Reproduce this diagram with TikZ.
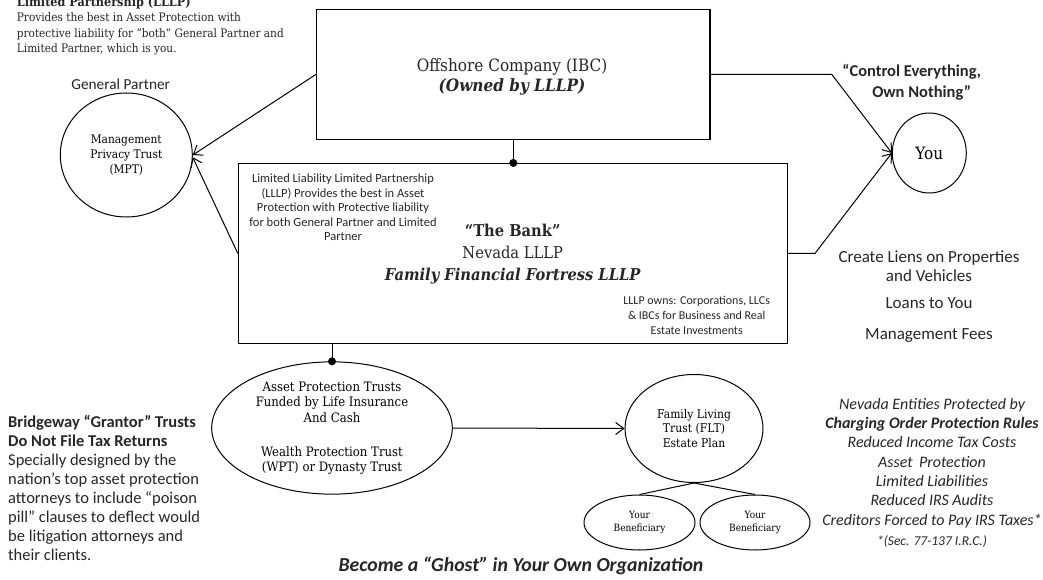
\documentclass[tikz,border=0pt]{standalone}
\usepackage{fontspec}
\setmainfont{DejaVu Serif}[FakeStretch=0.9]
\setsansfont{Carlito}
\usetikzlibrary{arrows.meta,shapes.geometric}
\newcommand{\fsz}[2]{\fontsize{#1}{#2}\selectfont}
\begin{document}
\begin{tikzpicture}[x=1pt,y=-1pt,
  box/.style={draw, rectangle, inner sep=0pt, line width=1.1pt},
  oval/.style={draw, ellipse, inner sep=0pt, line width=1pt, align=center},
  arr/.style={-{Straight Barb[length=8pt,width=12pt]}, line width=1pt},
  link/.style={line width=1pt},
  dotmark/.style={circle, fill, inner sep=0pt, minimum size=8pt},
  note/.style={inner sep=0pt, align=center, text=black!85},
]
\useasboundingbox (0,0) rectangle (1043,580);

% entities
\node[box, minimum width=393.3pt, minimum height=130pt] (ibc) at (513.3,74.3) {};
\node[box, minimum width=548.7pt, minimum height=179.8pt] (lllp) at (512.7,253.4) {};
\node[oval, minimum width=132pt, minimum height=124pt, font=\fsz{11.8}{15}] (mpt) at (126.3,155)
  {Management\\Privacy Trust\\(MPT)};
\node[oval, minimum width=74pt, minimum height=80pt, font=\fsz{17}{19}] (you) at (929.3,153) {You};
\node[oval, minimum width=240.6pt, minimum height=132.3pt, font=\fsz{13}{15.5}] (apt) at (332,428)
  {Asset Protection Trusts\\Funded by Life Insurance\\And Cash\\[18.5pt]Wealth Protection Trust\\(WPT) or Dynasty Trust};
\node[oval, minimum width=138pt, minimum height=108pt, font=\fsz{12}{14.7}] (flt) at (694,428.5)
  {Family Living\\Trust (FLT)\\Estate Plan};
\node[oval, minimum width=111pt, minimum height=55pt, font=\fsz{10}{12.6}] (benA) at (639.5,522.5)
  {Your\\Beneficiary};
\node[oval, minimum width=110pt, minimum height=55pt, font=\fsz{10}{12.6}] (benB) at (755,522.5)
  {Your\\Beneficiary};

% texts inside the two boxes
\node[note, font=\fsz{17}{20}] (ibctxt) at (512,77)
  {Offshore Company (IBC)\\{\bfseries\itshape (Owned by LLLP)}};
\node[note, font=\sffamily\fsz{12.5}{14.5}] (lllpdesc) at (343,207.7)
  {Limited Liability Limited Partnership\\(LLLP) Provides the best in Asset\\Protection with Protective liability\\for both General Partner and Limited\\Partner};
\node[note, font=\fsz{16.3}{22}] (bank) at (512.7,253.7)
  {{\bfseries “The Bank”}\\Nevada LLLP\\{\bfseries\itshape Family Financial Fortress LLLP}};
\node[note, font=\sffamily\fsz{12}{15}] (owns) at (696.7,315)
  {LLLP owns: Corporations, LLCs\\\& IBCs for Business and Real\\Estate Investments};

% connectors
\coordinate (ja) at (831.7,74.3);
\coordinate (jb) at (815,253.4);
\draw[arr] (ibc.west) -- (mpt.east);
\draw[arr] (lllp.west) -- (mpt.-2);
\draw[arr] (ibc.east) -- (ja) -- (you.west);
\draw[arr] (lllp.east) -- (jb) -- (you.west);
\draw[link] (ibc.south) -- (ibc.south |- lllp.north);
\node[dotmark] (dtop) at (ibc.south |- lllp.north) {};
\draw[link] (apt.north) -- (apt.north |- lllp.south);
\node[dotmark] (dbot) at (apt.north) {};
\draw[arr] (apt.east) -- (flt.west);
\draw[link] (flt.south) -- (benA.north);
\draw[link] (flt.south) -- (benB.north);

% free-standing labels
\node[note, anchor=west, font=\fsz{11.7}{15.5}, align=left] (topnote) at (16.7,26)
  {{\bfseries\fsz{12.5}{15.5}Limited Partnership (LLLP)}\\Provides the best in Asset Protection with\\protective liability for "both" General Partner and\\Limited Partner, which is you.};
\node[note, font=\sffamily\fsz{15.3}{18}] (gp) at (120.7,84) {General Partner};
\node[note, font=\sffamily\bfseries\fsz{16.5}{21}] (ctl1) at (911.7,71.7) {“Control Everything,};
\node[note, font=\sffamily\bfseries\fsz{16.5}{21}] (ctl2) at (921.7,92.7) {Own Nothing”};
\node[note, font=\sffamily\fsz{17}{19.3}] (liens) at (929,266.3) {Create Liens on Properties\\and Vehicles};
\node[note, font=\sffamily\fsz{17}{19.3}] (loans) at (929,302.7) {Loans to You};
\node[note, font=\sffamily\fsz{17}{19.3}] (fees) at (929,336) {Management Fees};
\node[note, anchor=north west, font=\sffamily\fsz{16.5}{19}, align=left] (grantor) at (8,415)
  {{\bfseries Bridgeway “Grantor” Trusts}\\{\bfseries Do Not File Tax Returns}\\Specially designed by the\\nation’s top asset protection\\attorneys to include “poison\\pill” clauses to deflect would\\be litigation attorneys and\\their clients.};
\node[note, font=\sffamily\itshape\fsz{16}{19.3}] (rules) at (932,463)
  {Nevada Entities Protected by\\{\bfseries Charging Order Protection Rules}\\Reduced Income Tax Costs\\Asset\, Protection\\Limited Liabilities\\Reduced IRS Audits\\Creditors Forced to Pay IRS Taxes*};
\node[note, font=\sffamily\itshape\fsz{13.5}{15}] (sec) at (932,541) {*(Sec. 77-137 I.R.C.)};
\node[note, font=\sffamily\bfseries\itshape\fsz{19.8}{22}] (motto) at (521,566)
  {Become a “Ghost” in Your Own Organization};
\end{tikzpicture}
\end{document}
